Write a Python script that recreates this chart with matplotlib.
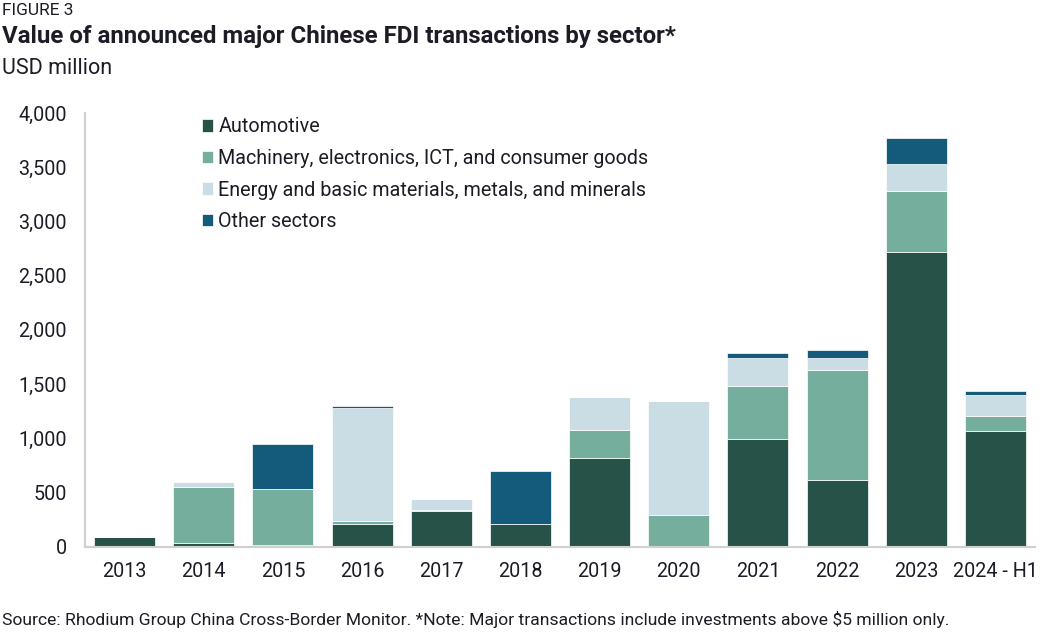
import numpy as np
import matplotlib
matplotlib.use("Agg")
import matplotlib.pyplot as plt

# === 1. Data (USD million) ===
years = ["2013", "2014", "2015", "2016", "2017", "2018", "2019", "2020",
         "2021", "2022", "2023", "2024 - H1"]
automotive = [90, 35, 15, 210, 326, 206, 819, 0, 990, 611, 2720, 1065]
machinery = [0, 518, 512, 25, 8, 0, 257, 295, 495, 1019, 556, 142]
energy = [0, 44, 5, 1045, 106, 0, 308, 1043, 253, 111, 249, 195]
other = [0, 0, 410, 12, 0, 490, 0, 0, 46, 68, 241, 30]

series = [
    ("Automotive", automotive, "#275247"),
    ("Machinery, electronics, ICT, and consumer goods", machinery, "#76ae9e"),
    ("Energy and basic materials, metals, and minerals", energy, "#cadce4"),
    ("Other sectors", other, "#135a7b"),
]

# === 2. Style ===
plt.rcParams["font.family"] = ["Roboto", "DejaVu Sans"]
text_color = "#1c1c26"

fig = plt.figure(figsize=(10.44, 6.35), dpi=100)
ax = fig.add_axes([85 / 1044, 1 - 546.5 / 635, 950 / 1044, 433.5 / 635])

x = np.arange(len(years))
bottom = np.zeros(len(years))
for label, vals, color in series:
    vals = np.array(vals, dtype=float)
    ax.bar(x, vals, width=0.77, bottom=bottom, color=color, label=label,
           edgecolor="white", linewidth=0.5)
    bottom += vals

ax.set_xlim(-0.5, len(years) - 0.5)
ax.set_ylim(0, 4000)
ax.set_yticks(range(0, 4001, 500))
ax.set_yticklabels([f"{v:,}" for v in range(0, 4001, 500)])
ax.set_xticks(x)
ax.set_xticklabels(years)
ax.tick_params(axis="y", length=0, pad=13, labelsize=14.2, labelcolor=text_color)
ax.tick_params(axis="x", length=0, pad=11, labelsize=14.2, labelcolor=text_color)

for side in ["top", "right"]:
    ax.spines[side].set_visible(False)
for side in ["left", "bottom"]:
    ax.spines[side].set_color("#d0d0d0")
    ax.spines[side].set_linewidth(1.5)

ax.legend(loc="upper left", bbox_to_anchor=(0.104, 1.031), frameon=False,
          fontsize=14.2, handlelength=0.6, handleheight=0.6,
          handletextpad=0.25, labelspacing=0.64, labelcolor=text_color)

# === 3. Titles ===
fig.text(0.002, 1 - 15 / 635, "FIGURE 3", fontsize=12.5, color=text_color,
         va="baseline")
fig.text(0.002, 1 - 43 / 635, "Value of announced major Chinese FDI transactions by sector*",
         fontsize=17.3, fontweight="bold", color=text_color, va="baseline")
fig.text(0.002, 1 - 74 / 635, "USD million", fontsize=15.5, color=text_color,
         va="baseline")
fig.text(0.002, 1 - 625 / 635,
         "Source: Rhodium Group China Cross-Border Monitor. *Note: Major transactions include investments above $5 million only.",
         fontsize=12.6, color=text_color, va="baseline")

# === 4. Save ===
fig.savefig("out.png", dpi=100)
plt.close(fig)
